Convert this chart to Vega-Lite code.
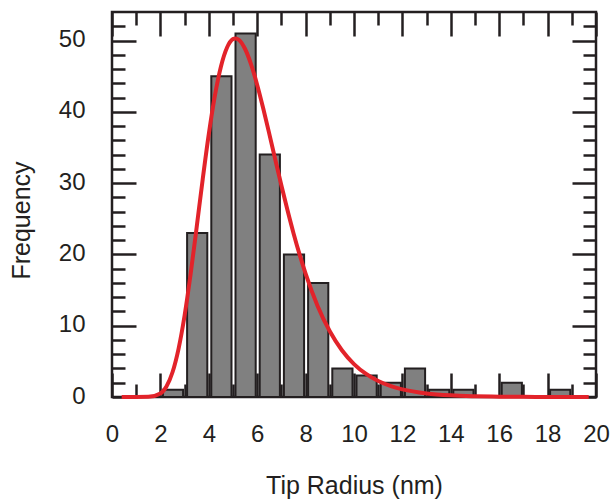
{
  "$schema": "https://vega.github.io/schema/vega-lite/v6.json",
  "autosize": "none",
  "padding": {"left": 112, "top": 12, "right": 16, "bottom": 103},
  "width": 484,
  "height": 385,
  "background": "white",
  "config": {
    "view": {"stroke": "#231f20", "strokeWidth": 2.5},
    "axis": {
      "labelFont": "Liberation Sans",
      "titleFont": "Liberation Sans",
      "labelColor": "#231f20",
      "titleColor": "#231f20",
      "tickColor": "#231f20",
      "tickWidth": 2.5,
      "grid": false,
      "domain": false,
      "labelFlush": false,
      "labelOverlap": false
    }
  },
  "datasets": {
    "bins": [
      {"start": 2, "end": 3, "count": 1},
      {"start": 3, "end": 4, "count": 23},
      {"start": 4, "end": 5, "count": 45},
      {"start": 5, "end": 6, "count": 51},
      {"start": 6, "end": 7, "count": 34},
      {"start": 7, "end": 8, "count": 20},
      {"start": 8, "end": 9, "count": 16},
      {"start": 9, "end": 10, "count": 4},
      {"start": 10, "end": 11, "count": 3},
      {"start": 11, "end": 12, "count": 2},
      {"start": 12, "end": 13, "count": 4},
      {"start": 13, "end": 14, "count": 1},
      {"start": 14, "end": 15, "count": 1},
      {"start": 16, "end": 17, "count": 2},
      {"start": 18, "end": 19, "count": 1}
    ],
    "fit": [
      {"x": 0.4, "y": 0},
      {"x": 1.0, "y": 0},
      {"x": 1.5, "y": 0.02},
      {"x": 2.0, "y": 0.5},
      {"x": 2.25, "y": 1.48},
      {"x": 2.5, "y": 3.47},
      {"x": 2.75, "y": 6.76},
      {"x": 3.0, "y": 11.43},
      {"x": 3.25, "y": 17.28},
      {"x": 3.5, "y": 23.86},
      {"x": 3.75, "y": 30.59},
      {"x": 4.0, "y": 36.87},
      {"x": 4.25, "y": 42.23},
      {"x": 4.5, "y": 46.32},
      {"x": 4.75, "y": 48.98},
      {"x": 5.0, "y": 50.2},
      {"x": 5.1, "y": 50.3},
      {"x": 5.25, "y": 50.08},
      {"x": 5.5, "y": 48.81},
      {"x": 5.75, "y": 46.63},
      {"x": 6.0, "y": 43.77},
      {"x": 6.25, "y": 40.46},
      {"x": 6.5, "y": 36.91},
      {"x": 6.75, "y": 33.26},
      {"x": 7.0, "y": 29.67},
      {"x": 7.25, "y": 26.22},
      {"x": 7.5, "y": 22.98},
      {"x": 7.75, "y": 20.01},
      {"x": 8.0, "y": 17.31},
      {"x": 8.5, "y": 12.74},
      {"x": 9.0, "y": 9.21},
      {"x": 9.5, "y": 6.56},
      {"x": 10.0, "y": 4.62},
      {"x": 10.5, "y": 3.23},
      {"x": 11.0, "y": 2.24},
      {"x": 11.5, "y": 1.55},
      {"x": 12.0, "y": 1.07},
      {"x": 13.0, "y": 0.5},
      {"x": 14.0, "y": 0.23},
      {"x": 15.0, "y": 0.11},
      {"x": 16.0, "y": 0.05},
      {"x": 17.0, "y": 0.02},
      {"x": 18.0, "y": 0.01},
      {"x": 19.7, "y": 0}
    ]
  },
  "resolve": {"axis": {"x": "independent", "y": "independent"}},
  "layer": [
    {
      "data": {"name": "bins"},
      "mark": {"type": "bar", "fill": "#808080", "stroke": "#231f20", "strokeWidth": 2, "binSpacing": 4},
      "encoding": {
        "x": {
          "field": "start", "type": "quantitative", "bin": {"binned": true, "step": 1},
          "scale": {"domain": [0, 20], "nice": false},
          "axis": {
            "orient": "bottom",
            "values": [0,1,2,3,4,5,6,7,8,9,10,11,12,13,14,15,16,17,18,19,20],
            "tickSize": {"condition": {"test": "datum.value % 2 == 0", "value": -24}, "value": -13},
            "labelExpr": "datum.value % 2 == 0 ? datum.label : ''",
            "labelFontSize": 24,
            "labelPadding": 49,
            "title": "Tip Radius (nm)",
            "titleFontSize": 25,
            "titleFontWeight": "normal",
            "titleX": 242,
            "titleY": 96,
            "titleBaseline": "alphabetic",
            "titleAlign": "center"
          }
        },
        "x2": {"field": "end"},
        "y": {
          "field": "count", "type": "quantitative",
          "scale": {"domain": [0, 54], "nice": false},
          "axis": {
            "orient": "left",
            "values": [0,2,4,6,8,10,12,14,16,18,20,22,24,26,28,30,32,34,36,38,40,42,44,46,48,50,52],
            "tickSize": {"condition": {"test": "datum.value % 10 == 0", "value": -24}, "value": -13},
            "labelExpr": "datum.value % 10 == 0 ? datum.label : ''",
            "labelFontSize": 24,
            "labelPadding": 51,
            "labelOffset": -1,
            "title": "Frequency",
            "titleFontSize": 25,
            "titleFontWeight": "normal",
            "titleAngle": -90,
            "titleX": -83,
            "titleY": 208,
            "titleBaseline": "alphabetic",
            "titleAlign": "center"
          }
        }
      }
    },
    {
      "data": {"name": "fit"},
      "mark": {"type": "line", "stroke": "#e2232a", "strokeWidth": 4, "interpolate": "monotone"},
      "encoding": {
        "x": {
          "field": "x", "type": "quantitative",
          "axis": {
            "orient": "top",
            "values": [0,1,2,3,4,5,6,7,8,9,10,11,12,13,14,15,16,17,18,19,20],
            "tickSize": {"condition": {"test": "datum.value % 2 == 0", "value": -24}, "value": -13},
            "labels": false,
            "title": null
          }
        },
        "y": {
          "field": "y", "type": "quantitative",
          "axis": {
            "orient": "right",
            "values": [0,2,4,6,8,10,12,14,16,18,20,22,24,26,28,30,32,34,36,38,40,42,44,46,48,50,52],
            "tickSize": {"condition": {"test": "datum.value % 10 == 0", "value": -24}, "value": -13},
            "labels": false,
            "title": null
          }
        }
      }
    }
  ]
}
